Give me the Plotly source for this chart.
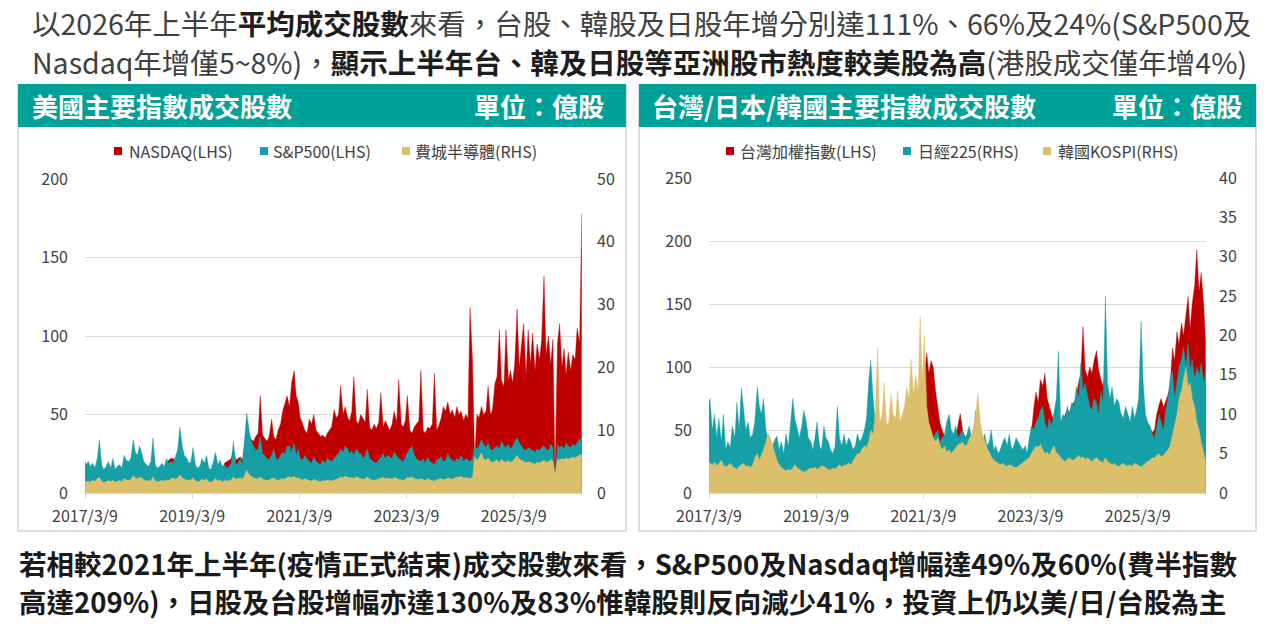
import pandas as pd
import plotly.graph_objects as go

W, H = 1287, 626
FONT = "Noto Sans CJK TC"

RED = "#c00000"
TEAL = "#14a0a6"
GOLD = "#dcbf6b"
HEAD = "#00a199"
GRID = "#d9d9d9"

# semi-monthly samples (1st and 15th of each month), 2017/3 - 2026/6
dates = pd.date_range("2017-03-01", "2026-06-15", freq="SMS")

tick_dates = ["2017-03-09", "2019-03-09", "2021-03-09", "2023-03-09", "2025-03-09"]
tick_text = ["2017/3/9", "2019/3/9", "2021/3/9", "2023/3/9", "2025/3/9"]

# ---- US indices, 億股 ----
nasdaq = (
    [20, 15, 17, 14, 16, 13, 19, 25, 15, 12, 14, 17, 13, 19, 12, 14, 15, 13, 20, 18]
    + [17, 19, 28, 22, 21, 25, 22, 17, 15, 14, 17, 28, 15, 13, 14, 16, 14, 19, 21, 22, 22, 20, 24, 33]
    + [24, 20, 18, 16, 17, 24, 15, 13, 14, 18, 16, 20, 13, 12, 17, 22, 15, 18, 14, 19, 20, 21, 22, 28]
    + [21, 22, 23, 21, 30, 42, 36, 34, 33, 36, 38, 62, 37, 35, 33, 36, 47, 36, 34, 40, 44, 52, 58, 62]
    + [55, 70, 78, 62, 58, 48, 44, 40, 38, 47, 44, 50, 40, 38, 36, 37, 35, 38, 40, 42, 53, 48, 50, 68]
    + [50, 55, 48, 46, 52, 74, 46, 44, 50, 48, 45, 66, 42, 40, 44, 41, 45, 64, 42, 46, 43, 40, 44, 52]
    + [45, 72, 44, 42, 46, 62, 40, 38, 42, 44, 46, 78, 40, 38, 42, 41, 44, 76, 40, 43, 48, 55, 52, 58]
    + [50, 53, 48, 55, 50, 52, 46, 50, 48, 118, 84, 22, 50, 48, 55, 50, 52, 68, 50, 53, 70, 74, 104, 72]
    + [68, 104, 72, 78, 70, 82, 117, 80, 96, 108, 75, 104, 82, 102, 78, 95, 85, 98, 138, 88, 100, 82, 98, 12]
    + [95, 108, 80, 92, 75, 90, 78, 88, 85, 105, 96, 178]
)
sp500 = (
    [24, 18, 20, 17, 19, 16, 22, 34, 18, 15, 17, 20, 16, 22, 15, 17, 18, 16, 24, 21]
    + [20, 22, 34, 26, 24, 30, 25, 20, 18, 17, 20, 35, 18, 16, 17, 19, 17, 22, 19, 20, 19, 23, 28, 42]
    + [30, 24, 22, 19, 20, 29, 18, 16, 17, 22, 19, 24, 16, 15, 20, 26, 18, 21, 17, 18, 16, 17, 19, 33]
    + [18, 19, 22, 18, 36, 51, 40, 33, 30, 27, 28, 36, 25, 24, 22, 21, 24, 28, 22, 21, 24, 26, 25, 30]
    + [30, 26, 32, 24, 28, 22, 21, 24, 22, 20, 19, 23, 20, 19, 18, 21, 19, 22, 21, 20, 22, 24, 25, 28]
    + [26, 30, 28, 25, 27, 24, 28, 26, 25, 22, 24, 28, 22, 21, 20, 19, 21, 23, 25, 22, 24, 23, 22, 26]
    + [24, 22, 21, 20, 23, 26, 28, 30, 24, 22, 21, 20, 22, 19, 23, 20, 19, 18, 21, 22, 23, 20, 21, 25]
    + [22, 21, 20, 22, 21, 24, 20, 22, 21, 20, 22, 30, 28, 30, 34, 31, 29, 32, 28, 27, 29, 30, 28, 33]
    + [30, 29, 31, 28, 30, 33, 35, 32, 30, 28, 27, 29, 28, 27, 26, 28, 27, 29, 30, 28, 27, 31, 29, 10]
    + [31, 29, 30, 28, 32, 30, 29, 31, 30, 32, 34, 36]
)
sox = (
    [2.0, 1.8, 1.9, 1.7, 2.1, 1.8, 2.3, 2.5, 1.9, 1.7, 1.8, 2.0, 1.8, 2.1, 1.7, 1.9, 2.0, 1.8, 2.3, 2.1]
    + [2.0, 2.2, 2.8, 2.4, 2.3, 2.5, 2.4, 2.1, 2.0, 1.9, 2.0, 2.6, 1.9, 1.8, 1.9, 2.0, 1.9, 2.1, 2.0, 2.3, 2.4, 2.2, 2.4, 2.9]
    + [2.4, 2.2, 2.1, 2.0, 2.1, 2.4, 1.9, 1.8, 1.9, 2.2, 2.0, 2.3, 1.8, 1.7, 2.0, 2.3, 1.9, 2.1, 1.8, 2.0, 1.9, 2.0, 2.1, 2.6]
    + [2.2, 2.3, 2.4, 2.2, 3.0, 3.6, 2.9, 2.6, 2.4, 2.3, 2.3, 2.6, 2.2, 2.1, 2.0, 2.1, 2.3, 2.4, 2.1, 2.0, 2.2, 2.3, 2.2, 2.5]
    + [2.6, 2.4, 2.7, 2.3, 2.5, 2.2, 2.1, 2.3, 2.1, 2.0, 1.9, 2.2, 2.0, 1.9, 1.8, 2.0, 1.9, 2.1, 2.0, 1.9, 2.1, 2.2, 2.3, 2.6]
    + [2.4, 2.7, 2.6, 2.4, 2.5, 2.3, 2.6, 2.5, 2.4, 2.2, 2.3, 2.6, 2.2, 2.1, 2.0, 2.1, 2.2, 2.4, 2.5, 2.3, 2.4, 2.3, 2.2, 2.5]
    + [2.3, 2.2, 2.1, 2.0, 2.2, 2.5, 2.4, 2.6, 2.3, 2.2, 2.1, 2.3, 2.2, 2.0, 2.3, 2.1, 2.0, 1.9, 2.1, 2.2, 2.3, 2.1, 2.2, 2.4]
    + [2.3, 2.2, 2.4, 2.6, 2.5, 2.7, 2.4, 2.5, 2.4, 2.3, 2.5, 5.8, 5.2, 5.6, 6.4, 5.5, 5.2, 5.6, 5.0, 4.9, 5.1, 5.3, 4.8, 5.4]
    + [5.0, 4.9, 5.2, 4.8, 5.1, 5.5, 6.0, 5.4, 5.2, 4.9, 4.8, 5.0, 4.9, 4.7, 4.6, 4.9, 4.8, 5.0, 5.2, 4.9, 5.0, 5.3, 5.1, 3.0]
    + [5.4, 5.2, 5.5, 5.3, 5.6, 5.4, 5.5, 5.7, 5.6, 5.8, 6.0, 6.2]
)

# ---- Taiwan / Japan / Korea, 億股 ----
taiex = (
    [30, 28, 29, 27, 30, 28, 31, 29, 27, 26, 28, 30, 27, 29, 28, 30, 31, 28, 29, 27]
    + [30, 32, 33, 30, 31, 30, 29, 28, 27, 26, 27, 28, 25, 26, 24, 25, 24, 26, 28, 27, 26, 25, 24, 25]
    + [24, 25, 26, 25, 26, 25, 24, 23, 24, 23, 22, 23, 22, 23, 24, 25, 23, 24, 23, 24, 25, 26, 27, 28]
    + [28, 30, 32, 30, 38, 45, 42, 40, 42, 45, 50, 60, 52, 54, 56, 55, 52, 50, 48, 50, 55, 60, 62, 65]
    + [75, 85, 80, 90, 85, 95, 111, 95, 105, 100, 80, 70, 55, 50, 45, 48, 45, 42, 40, 44, 55, 63, 50, 45]
    + [42, 40, 38, 40, 45, 42, 38, 35, 36, 33, 32, 30, 28, 30, 28, 29, 30, 32, 30, 31, 29, 30, 31, 32]
    + [30, 32, 34, 30, 40, 48, 68, 80, 72, 90, 85, 95, 75, 68, 62, 58, 55, 60, 55, 58, 62, 66, 64, 70]
    + [72, 78, 88, 95, 132, 98, 92, 100, 95, 105, 113, 98, 90, 85, 95, 75, 70, 68, 65, 70, 66, 62, 58, 60]
    + [55, 52, 60, 55, 58, 65, 90, 70, 58, 54, 52, 48, 50, 62, 70, 75, 68, 72, 78, 85, 115, 105, 128, 118]
    + [135, 125, 140, 156, 130, 150, 165, 193, 160, 175, 150, 118]
)
nikkei = (
    [11.0, 12.0, 8.0, 10.0, 7.0, 9.5, 6.5, 10.0, 5.5, 6.5, 5.8, 8.5, 7.0, 11.5, 8.0, 13.3, 10.5, 8.0, 9.0, 7.0]
    + [7.5, 9.0, 13.5, 11.0, 10.0, 12.0, 8.0, 7.0, 6.5, 6.0, 6.8, 7.2, 5.5, 6.5, 5.0, 7.5, 6.0, 8.5, 12.0, 9.5, 8.0, 7.0, 8.5, 10.5]
    + [9.0, 7.0, 6.5, 5.5, 7.0, 9.0, 6.0, 5.5, 8.5, 7.0, 6.5, 5.5, 5.0, 5.8, 11.0, 7.0, 6.0, 7.5, 6.0, 7.0, 6.5, 5.5, 6.0, 7.5]
    + [6.5, 7.0, 8.0, 9.5, 14.0, 16.9, 12.0, 9.0, 8.0, 7.5, 8.5, 9.0, 7.0, 7.5, 7.0, 6.5, 7.5, 7.0, 6.5, 7.0, 9.0, 10.0, 8.5, 8.0]
    + [9.0, 10.0, 9.5, 11.0, 10.0, 9.0, 8.0, 7.5, 8.0, 7.0, 7.5, 8.0, 6.5, 7.0, 7.5, 9.0, 10.0, 8.0, 7.5, 8.5, 7.0, 7.5, 8.0, 7.0]
    + [7.5, 8.5, 7.0, 8.0, 10.5, 9.0, 7.0, 6.5, 7.5, 6.0, 6.5, 8.0, 5.5, 6.0, 5.0, 5.5, 6.5, 7.0, 6.0, 7.5, 5.5, 6.0, 7.0, 6.5]
    + [6.0, 5.5, 6.0, 5.0, 7.0, 8.5, 8.0, 9.0, 9.5, 10.5, 11.0, 9.0, 8.0, 9.5, 8.5, 10.0, 12.0, 18.0, 9.0, 10.0, 9.5, 11.0, 10.0, 11.5]
    + [11.0, 13.5, 12.0, 16.5, 13.0, 14.0, 12.5, 11.0, 10.5, 12.0, 11.5, 10.0, 13.0, 11.5, 25.0, 14.0, 12.0, 13.5, 11.0, 12.0, 11.5, 10.0, 9.5, 11.0]
    + [10.0, 9.0, 11.0, 9.5, 10.5, 12.0, 21.8, 14.0, 10.0, 9.0, 8.5, 7.5, 7.0, 8.5, 10.0, 9.0, 8.0, 10.5, 12.0, 14.5, 15.5, 12.0, 14.0, 16.0]
    + [17.0, 18.5, 16.0, 19.0, 15.5, 17.0, 14.5, 16.0, 15.0, 16.5, 14.0, 15.5]
)
kospi = (
    [4.0, 3.8, 3.6, 3.9, 3.5, 3.7, 4.2, 3.6, 3.3, 3.5, 3.8, 3.4, 3.2, 3.0, 3.4, 3.6, 3.8, 3.3, 3.5, 3.2]
    + [3.6, 4.5, 5.0, 4.2, 4.8, 5.5, 6.5, 7.6, 7.0, 6.2, 5.0, 4.2, 3.6, 3.2, 3.0, 2.8, 3.0, 2.9, 3.2, 3.6, 3.2, 3.0, 2.8, 2.7]
    + [2.8, 3.0, 3.2, 3.1, 3.3, 3.0, 3.2, 3.5, 3.3, 3.1, 3.0, 2.9, 3.2, 3.0, 3.4, 3.6, 3.3, 3.5, 3.6, 3.8, 3.6, 4.0, 4.5, 5.0]
    + [5.0, 5.6, 6.0, 5.8, 6.5, 8.0, 7.5, 10.0, 18.5, 9.0, 10.0, 14.0, 8.5, 9.0, 12.5, 10.0, 9.5, 13.0, 9.0, 10.0, 11.0, 13.5, 12.0, 17.0]
    + [12.5, 15.0, 13.0, 22.5, 14.0, 20.0, 11.0, 9.0, 8.0, 7.0, 6.5, 7.0, 6.0, 5.5, 6.0, 5.2, 5.5, 5.0, 5.4, 5.8, 6.2, 6.2, 6.5, 6.0]
    + [6.2, 6.8, 7.5, 8.5, 10.0, 12.7, 9.0, 7.5, 6.5, 5.8, 5.2, 4.6, 4.2, 4.0, 3.8, 3.6, 3.8, 3.5, 3.4, 3.6, 3.5, 3.3, 3.2, 3.4]
    + [3.6, 3.8, 4.0, 4.2, 4.5, 5.0, 5.5, 6.0, 5.8, 6.2, 5.5, 5.0, 5.2, 4.8, 5.5, 6.0, 5.2, 4.8, 4.5, 4.2, 4.0, 4.3, 4.5, 4.2]
    + [4.2, 4.5, 4.8, 4.4, 4.6, 4.3, 4.5, 4.2, 4.0, 4.3, 4.5, 4.2, 4.0, 3.8, 4.5, 4.0, 3.8, 3.6, 3.8, 3.5, 3.4, 3.6, 3.8, 3.5]
    + [3.5, 3.6, 3.4, 3.8, 3.6, 3.5, 3.3, 3.6, 3.8, 4.0, 4.2, 4.5, 4.4, 4.8, 5.0, 4.6, 4.8, 5.2, 5.5, 6.0, 7.5, 8.5, 10.0, 12.0]
    + [13.0, 14.5, 16.0, 13.5, 14.0, 12.0, 11.0, 9.0, 8.0, 6.5, 5.0, 4.0]
)


def fx(px):
    return px / W


def fy(py):
    return 1 - py / H


def area(y, color, xa, ya):
    return go.Scatter(x=dates, y=y, xaxis=xa, yaxis=ya, mode="lines",
                      line=dict(color=color, width=0.4), fill="tozeroy",
                      fillcolor=color, showlegend=False, hoverinfo="skip")


fig = go.Figure()
# left panel: red behind, teal, gold in front
fig.add_trace(area(nasdaq, RED, "x", "y"))
fig.add_trace(area(sp500, TEAL, "x", "y"))
fig.add_trace(area(sox, GOLD, "x", "y2"))
# right panel
fig.add_trace(area(taiex, RED, "x2", "y3"))
fig.add_trace(area(nikkei, TEAL, "x2", "y4"))
fig.add_trace(area(kospi, GOLD, "x2", "y4"))

tickfont = dict(family=FONT, size=16, color="#404040")
xcommon = dict(type="date", range=["2017-03-09", "2026-06-17"], tickvals=tick_dates,
               ticktext=tick_text, showgrid=False, showline=True, linecolor=GRID,
               linewidth=1, ticks="outside", ticklen=5, tickcolor=GRID,
               tickfont=tickfont, ticklabelstandoff=4, zeroline=False, automargin=False)
ycommon = dict(showline=False, zeroline=False, ticks="", tickfont=tickfont, automargin=False)

fig.update_layout(
    width=W, height=H, autosize=False,
    margin=dict(l=0, r=0, t=0, b=0, pad=0),
    paper_bgcolor="white", plot_bgcolor="rgba(0,0,0,0)",
    font=dict(family=FONT, color="#404040"),
    hovermode=False,
    xaxis=dict(domain=[fx(85), fx(582)], anchor="y", **xcommon),
    yaxis=dict(domain=[fy(493), fy(179)], range=[0, 200], dtick=50, showgrid=True,
               gridcolor=GRID, gridwidth=1, ticklabelstandoff=16, **ycommon),
    yaxis2=dict(overlaying="y", side="right", anchor="x", range=[0, 50], dtick=10,
                showgrid=False, ticklabelstandoff=14, **ycommon),
    xaxis2=dict(domain=[fx(709), fx(1206)], anchor="y3", **xcommon),
    yaxis3=dict(domain=[fy(493), fy(178)], anchor="x2", range=[0, 250], dtick=50,
                showgrid=True, gridcolor=GRID, gridwidth=1, ticklabelstandoff=16, **ycommon),
    yaxis4=dict(overlaying="y3", side="right", anchor="x2", range=[0, 40], dtick=5,
                showgrid=False, ticklabelstandoff=12, **ycommon),
)

shapes = []
for x0, x1 in [(18, 626), (639, 1256)]:
    shapes.append(dict(type="rect", xref="paper", yref="paper", x0=fx(x0), x1=fx(x1),
                       y0=fy(531), y1=fy(85), fillcolor="white",
                       line=dict(color="#d4d4d4", width=1.5), layer="below"))
    shapes.append(dict(type="rect", xref="paper", yref="paper", x0=fx(x0), x1=fx(x1),
                       y0=fy(127), y1=fy(84), fillcolor=HEAD, line=dict(width=0),
                       layer="below"))

legend_items = [
    (114, 127, RED, "NASDAQ(LHS)"),
    (260, 271, TEAL, "S&amp;P500(LHS)"),
    (402, 413, GOLD, "費城半導體(RHS)"),
    (726, 738, RED, "台灣加權指數(LHS)"),
    (903, 916, TEAL, "日經225(RHS)"),
    (1043, 1056, GOLD, "韓國KOSPI(RHS)"),
]
annotations = []
for sq, tx, col, label in legend_items:
    shapes.append(dict(type="rect", xref="paper", yref="paper", x0=fx(sq), x1=fx(sq + 8),
                       y0=fy(155), y1=fy(147), fillcolor=col, line=dict(width=0)))
    annotations.append(dict(text=label, x=fx(tx), y=fy(151), xref="paper", yref="paper",
                            xanchor="left", yanchor="middle", showarrow=False,
                            font=dict(family=FONT, size=16, color="#404040")))

head_font = dict(family=FONT, size=26, color="white")
for text, x, anchor in [("<b>美國主要指數成交股數</b>", 30, "left"),
                        ("<b>單位：億股</b>", 606, "right"),
                        ("<b>台灣/日本/韓國主要指數成交股數</b>", 650, "left"),
                        ("<b>單位：億股</b>", 1244, "right")]:
    annotations.append(dict(text=text, x=fx(x), y=fy(106), xref="paper", yref="paper",
                            xanchor=anchor, yanchor="middle", showarrow=False, font=head_font))

dark = "<span style='color:#1e1e1e'><b>%s</b></span>"
top1 = "以2026年上半年" + dark % "平均成交股數" + "來看，台股、韓股及日股年增分別達111%、66%及24%(S&amp;P500及"
top2 = "Nasdaq年增僅5~8%)，" + dark % "顯示上半年台、韓及日股等亞洲股市熱度較美股為高" + "(港股成交僅年增4%)"
bot1 = "<b>若相較2021年上半年(疫情正式結束)成交股數來看，S&amp;P500及Nasdaq增幅達49%及60%(費半指數</b>"
bot2 = "<b>高達209%)，日股及台股增幅亦達130%及83%惟韓股則反向減少41%，投資上仍以美/日/台股為主</b>"
for text, x, y, size, col in [(top1, 30, 23, 28.5, "#404040"), (top2, 30, 62, 28.5, "#404040"),
                              (bot1, 17, 563, 27.5, "#1a1a1a"), (bot2, 17, 601, 27.5, "#1a1a1a")]:
    annotations.append(dict(text=text, x=fx(x), y=fy(y), xref="paper", yref="paper",
                            xanchor="left", yanchor="middle", showarrow=False,
                            font=dict(family=FONT, size=size, color=col)))

fig.update_layout(shapes=shapes, annotations=annotations)
# drop the page's default 8px body margin so the figure fills the window
fig.write_html("out.html", config={"displayModeBar": False},
               post_script="document.body.style.margin = '0';")
